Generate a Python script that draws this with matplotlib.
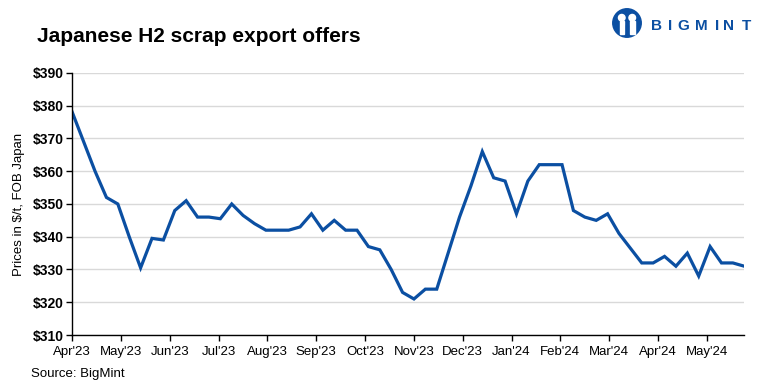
import matplotlib.pyplot as plt
import numpy as np
from matplotlib.patches import Circle, Rectangle

# weekly offers, $/t FOB Japan (Apr'23 - May'24)
prices = [378, 369, 360, 352, 350, 340, 330.5, 339.5, 339, 348,
          351, 346, 346, 345.5, 350, 346.5, 344, 342, 342, 342,
          343, 347, 342, 345, 342, 342, 337, 336, 330, 323,
          321, 324, 324, 335, 346, 355.5, 366, 358, 357, 347,
          357, 362, 362, 362, 348, 346, 345, 347, 341, 336.5,
          332, 332, 334, 331, 335, 328, 337, 332, 332, 331]
month_labels = ["Apr'23", "May'23", "Jun'23", "Jul'23", "Aug'23", "Sep'23", "Oct'23",
                "Nov'23", "Dec'23", "Jan'24", "Feb'24", "Mar'24", "Apr'24", "May'24"]
y_ticks = [310, 320, 330, 340, 350, 360, 370, 380, 390]

plt.rcParams['font.family'] = ['Liberation Sans', 'DejaVu Sans']

line_color = '#0b4fa2'
weeks_per_month = 4.285

fig = plt.figure(figsize=(7.68, 3.84), dpi=100)
ax = fig.add_axes([0.0941, 0.1276, 0.875, 0.6824])

x = np.arange(len(prices))
ax.plot(x, prices, color=line_color, linewidth=2.3, solid_joinstyle='miter')

ax.set_xlim(0, len(prices) - 1)
ax.set_ylim(310, 390)
ax.set_yticks(y_ticks)
ax.set_yticklabels([f"${v}" for v in y_ticks], fontweight='bold', fontsize=10)
ax.set_xticks(np.arange(len(month_labels)) * weeks_per_month)
ax.set_xticklabels(month_labels, fontsize=9.5)
ax.grid(axis='y', color='#d9d9d9', linewidth=1)
ax.set_axisbelow(True)
for s in ['top', 'right']:
    ax.spines[s].set_visible(False)
for s in ['left', 'bottom']:
    ax.spines[s].set_color('black')
    ax.spines[s].set_linewidth(1)
ax.tick_params(axis='both', direction='out', length=4, width=1, color='black', pad=2)
ax.tick_params(axis='x', pad=4)
ax.set_ylabel("Prices in $/t, FOB Japan", fontsize=9.5, labelpad=6)

fig.text(37 / 768, 1 - 42 / 384, "Japanese H2 scrap export offers",
         fontsize=15, fontweight='bold', ha='left', va='baseline')
fig.text(31 / 768, 1 - 377 / 384, "Source: BigMint", fontsize=9.5, ha='left', va='baseline')

# logo
logo = fig.add_axes([612 / 768, 1 - 38 / 384, 30 / 768, 30 / 384])
logo.set_xlim(-1, 1)
logo.set_ylim(-1, 1)
logo.set_aspect('equal')
logo.axis('off')
logo.add_patch(Circle((0, 0), 0.95, color=line_color))
for cx in (-0.35, 0.35):
    logo.add_patch(Circle((cx, 0.35), 0.22, color='white'))
    logo.add_patch(Rectangle((cx - 0.15, -0.7), 0.3, 0.85, color='white'))
logo.add_patch(Rectangle((-0.08, -0.75), 0.16, 0.6, color=line_color))

letters = "BIGMINT"
centers = [656.7, 670, 683, 701.5, 716.7, 728.5, 747]
for ch, cx in zip(letters, centers):
    fig.text(cx / 768, 1 - 30.5 / 384, ch, fontsize=11, fontweight='bold',
             color=line_color, ha='center', va='baseline')

fig.savefig("out.png", dpi=100)
